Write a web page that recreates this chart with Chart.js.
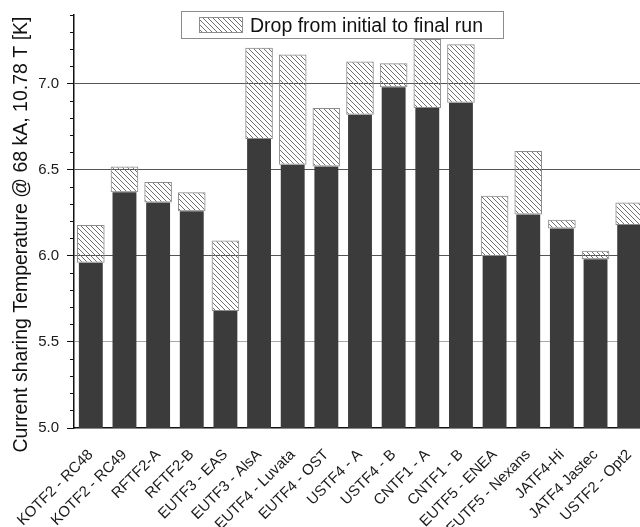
<!DOCTYPE html>
<html>
<head>
<meta charset="utf-8">
<script src="https://cdn.jsdelivr.net/npm/chart.js@4/dist/chart.umd.min.js"></script>
<style>
  html, body { margin: 0; padding: 0; overflow: hidden; background: #fff; }
  canvas { display: block; }
</style>
</head>
<body>
<canvas id="chart" width="646" height="527"></canvas>
<script>
// Conductor samples (TF short samples)
const categories = [
  'KOTF2 - RC48', 'KOTF2 - RC49', 'RFTF2-A', 'RFTF2-B', 'EUTF3 - EAS',
  'EUTF3 - AlsA', 'EUTF4 - Luvata', 'EUTF4 - OST', 'USTF4 - A', 'USTF4 - B',
  'CNTF1 - A', 'CNTF1 - B', 'EUTF5 - ENEA', 'EUTF5 - Nexans', 'JATF4-Hi',
  'JATF4 Jastec', 'USTF2 - Opt2'
];

// Current sharing temperature, final run [K]
const finalRun = [
  5.96, 6.37, 6.31, 6.26, 5.68,
  6.68, 6.53, 6.52, 6.82, 6.98,
  6.86, 6.89, 6.00, 6.24, 6.16,
  5.98, 6.18
];

// Current sharing temperature, initial run [K]
const initialRun = [
  6.18, 6.52, 6.43, 6.37, 6.09,
  7.21, 7.17, 6.86, 7.13, 7.12,
  7.26, 7.23, 6.35, 6.61, 6.21,
  6.03, 6.31
];

// Y axis range and tick steps
const yMin = 5.0;
const yMax = 7.4;
const yMajorStep = 0.5;
const yMinorStep = 0.1;

const legendLabel = 'Drop from initial to final run';
const yTitle = 'Current sharing Temperature @ 68 kA, 10.78 T [K]';

const FONT = '"Liberation Sans", Arial, Helvetica, sans-serif';

const canvas = document.getElementById('chart');
const ctx = canvas.getContext('2d');

// Diagonal "\" hatch used for the drop bars
function makeHatch() {
  const s = 5;
  const c = document.createElement('canvas');
  c.width = s; c.height = s;
  const g = c.getContext('2d');
  g.strokeStyle = '#707070';
  g.lineWidth = 1;
  g.beginPath();
  g.moveTo(-1, -1); g.lineTo(s + 1, s + 1);
  g.moveTo(-1, s - 1); g.lineTo(1, s + 1);
  g.moveTo(s - 1, -1); g.lineTo(s + 1, 1);
  g.stroke();
  return ctx.createPattern(c, 'repeat');
}
const hatch = makeHatch();

const dropRanges = categories.map((_, i) => [finalRun[i], initialRun[i]]);

// Keep the plot frame fixed: no extra padding from tick labels
function noPadding(scale) {
  scale.paddingLeft = 0;
  scale.paddingRight = 0;
  scale.paddingTop = 0;
  scale.paddingBottom = 0;
}

// Framed legend box and rotated y title
const decorations = {
  id: 'decorations',
  afterDraw(chart) {
    const c = chart.ctx;
    c.save();
    // legend frame
    c.fillStyle = '#fff';
    c.fillRect(182, 12, 322, 26);
    c.strokeStyle = '#8c8c8c';
    c.lineWidth = 1;
    c.strokeRect(181.5, 11.5, 322, 27);
    // legend swatch
    c.fillStyle = hatch;
    c.fillRect(199, 17, 44, 16);
    c.strokeStyle = '#8c8c8c';
    c.strokeRect(199.5, 17.5, 43, 15);
    // legend text
    c.fillStyle = '#111';
    c.font = '19.5px ' + FONT;
    c.textAlign = 'left';
    c.textBaseline = 'alphabetic';
    c.fillText(chart.data.datasets[0].label, 250, 32);
    // y axis title
    c.translate(27, 234.5);
    c.rotate(-Math.PI / 2);
    c.textAlign = 'center';
    c.fillText(yTitle, 0, 0);
    c.restore();
  }
};

new Chart(ctx, {
  type: 'bar',
  data: {
    labels: categories,
    datasets: [
      {
        label: legendLabel,
        data: dropRanges,
        backgroundColor: hatch,
        borderColor: '#8c8c8c',
        borderWidth: 1,
        borderSkipped: false,
        barPercentage: 0.82,
        categoryPercentage: 1.0,
        grouped: false,
        yAxisID: 'y'
      },
      {
        label: 'Final run',
        data: finalRun,
        backgroundColor: '#3b3b3b',
        borderWidth: 0,
        barPercentage: 0.71,
        categoryPercentage: 1.0,
        grouped: false,
        yAxisID: 'y'
      }
    ]
  },
  options: {
    responsive: false,
    animation: false,
    layout: { padding: { top: 15, right: 0, bottom: 0, left: 0 } },
    plugins: {
      legend: { display: false },
      tooltip: { enabled: false }
    },
    scales: {
      x: {
        afterFit(scale) { scale.height = 99; noPadding(scale); },
        grid: { display: false, drawTicks: false },
        border: { display: true, color: '#111', width: 1.5 },
        ticks: {
          color: '#1a1a1a',
          font: { family: FONT, size: 15 },
          minRotation: 45,
          maxRotation: 45,
          autoSkip: false,
          padding: 18
        }
      },
      y: {
        position: 'left',
        weight: 1,
        min: yMin,
        max: yMax,
        afterFit(scale) { scale.width = 74; noPadding(scale); },
        grid: {
          color(c) {
            const v = c.tick ? Math.round(c.tick.value * 10) / 10 : 0;
            if (v <= yMin) return 'rgba(0,0,0,0)';
            if (v === 5.5) return '#a8a8a8';
            return '#555';
          },
          lineWidth: 1,
          tickColor: '#111',
          tickLength: 7,
          tickWidth: 1
        },
        border: { display: true, color: '#111', width: 1.5 },
        ticks: {
          stepSize: yMajorStep,
          includeBounds: false,
          color: '#1a1a1a',
          font: { family: FONT, size: 15 },
          padding: 8,
          callback: (v) => Number(v).toFixed(1)
        }
      },
      yMinor: {
        position: 'left',
        weight: 0,
        min: yMin,
        max: yMax,
        afterFit(scale) { scale.width = 0; noPadding(scale); },
        grid: {
          drawOnChartArea: false,
          tickColor: '#111',
          tickLength: 4,
          tickWidth: 1
        },
        border: { display: false },
        ticks: {
          stepSize: yMinorStep,
          display: false
        }
      }
    }
  },
  plugins: [decorations]
});
</script>
</body>
</html>
